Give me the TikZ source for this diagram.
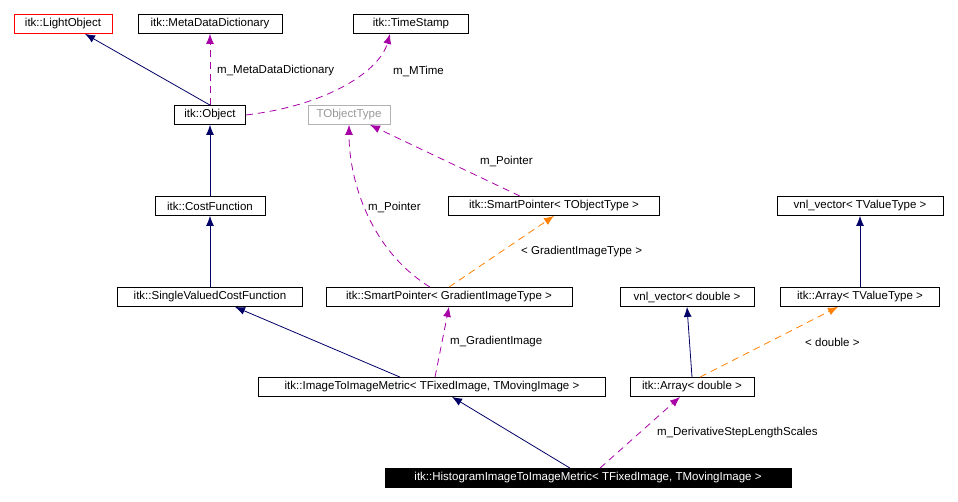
\documentclass[tikz,border=0pt]{standalone}
\usepackage{fontspec}
\setmainfont{Liberation Sans}
\usetikzlibrary{arrows.meta}

\begin{document}
\begin{tikzpicture}[x=1pt, y=-1pt,
  every node/.style={font=\fontsize{11.5}{13}\selectfont},
  % Class boxes
  cls/.style={rectangle, draw=black, fill=white, inner sep=0pt, minimum height=19pt, line width=0.8pt},
  tmpl/.style={cls, draw=gray!60, text=gray!80},
  % Edges
  inh/.style={draw=blue!40!black, line width=0.8pt, -{Latex[length=10pt,width=8pt]}},
  use/.style={draw=violet!70!magenta, dashed, dash pattern=on 7pt off 5pt, line width=0.8pt, -{Latex[length=10pt,width=8pt]}},
  inst/.style={draw=orange, dashed, dash pattern=on 7pt off 5pt, line width=0.8pt, -{Latex[length=10pt,width=8pt]}},
  % Labels
  lbl/.style={fill=white, inner sep=1pt, anchor=west}
]
\useasboundingbox (0,0) rectangle (958,502);

% === Top row ===
\node[cls, draw=red, minimum width=98pt] (lightobj) at (63,24) {itk::LightObject};
\node[cls, minimum width=144pt] (mdd) at (210,24) {itk::MetaDataDictionary};
\node[cls, minimum width=115pt] (tstamp) at (411,24) {itk::TimeStamp};

% === Second row ===
\node[cls, minimum width=71pt] (object) at (210,115) {itk::Object};
\node[tmpl, minimum width=82pt] (tobj) at (349,115) {TObjectType};

% === Third row ===
\node[cls, minimum width=110pt] (costfn) at (210,206) {itk::CostFunction};
\node[cls, minimum width=211pt] (sptobj) at (554,206) {itk::SmartPointer< TObjectType >};
\node[cls, minimum width=166pt] (vnltv) at (860,206) {vnl\_vector< TValueType >};

% === Fourth row ===
\node[cls, minimum width=185pt] (svcf) at (210,297) {itk::SingleValuedCostFunction};
\node[cls, minimum width=246pt] (spgit) at (449,297) {itk::SmartPointer< GradientImageType >};
\node[cls, minimum width=134pt] (vnld) at (687,297) {vnl\_vector< double >};
\node[cls, minimum width=159pt] (arrtv) at (860,297) {itk::Array< TValueType >};

% === Fifth row ===
\node[cls, minimum width=347pt] (i2im) at (432,387) {itk::ImageToImageMetric< TFixedImage, TMovingImage >};
\node[cls, minimum width=124pt] (arrd) at (692,387) {itk::Array< double >};

% === Bottom ===
\node[cls, fill=black, text=white, minimum width=406pt] (hist) at (588,478) {itk::HistogramImageToImageMetric< TFixedImage, TMovingImage >};

% Edges: inheritance
\draw[inh] (object.north) -- (lightobj.south -| 85,0);
\draw[inh] (costfn) -- (object);
\draw[inh] (svcf) -- (costfn);
\draw[inh] (arrtv) -- (vnltv);
\draw[inh] (i2im.north -| 400,0) -- (svcf.south -| 235,0);
\draw[inh] (arrd.north) -- (vnld.south);
\draw[inh] (hist.north -| 570,0) -- (i2im.south -| 452,0);

% Edges: usage
\draw[use] (object.north) -- (mdd.south);
\draw[use] (object.east) .. controls (330,105) and (380,70) .. (tstamp.south -| 390,0);
\draw[use] (sptobj.north -| 520,0) -- (tobj.south -| 370,0);
\draw[use] (spgit.north -| 430,0) .. controls (370,250) and (349,180) .. (tobj.south);
\draw[use] (i2im.north -| 435,0) -- (spgit.south);
\draw[use] (hist.north -| 600,0) -- (arrd.south -| 680,0);

% Edges: template instantiation
\draw[inst] (spgit.north -| 449,0) -- (sptobj.south);
\draw[inst] (arrd.north -| 700,0) -- (arrtv.south -| 838,0);

% Edge labels
\node[lbl] (lmdd) at (216,71) {m\_MetaDataDictionary};
\node[lbl] (lmtime) at (392,71) {m\_MTime};
\node[lbl] (lptr1) at (479,161) {m\_Pointer};
\node[lbl] (lptr2) at (367,207) {m\_Pointer};
\node[lbl] (lgit) at (520,252) {< GradientImageType >};
\node[lbl] (lgrad) at (449,342) {m\_GradientImage};
\node[lbl] (ldbl) at (804,342) {< double >};
\node[lbl] (lstep) at (656,433) {m\_DerivativeStepLengthScales};

\end{tikzpicture}
\end{document}
